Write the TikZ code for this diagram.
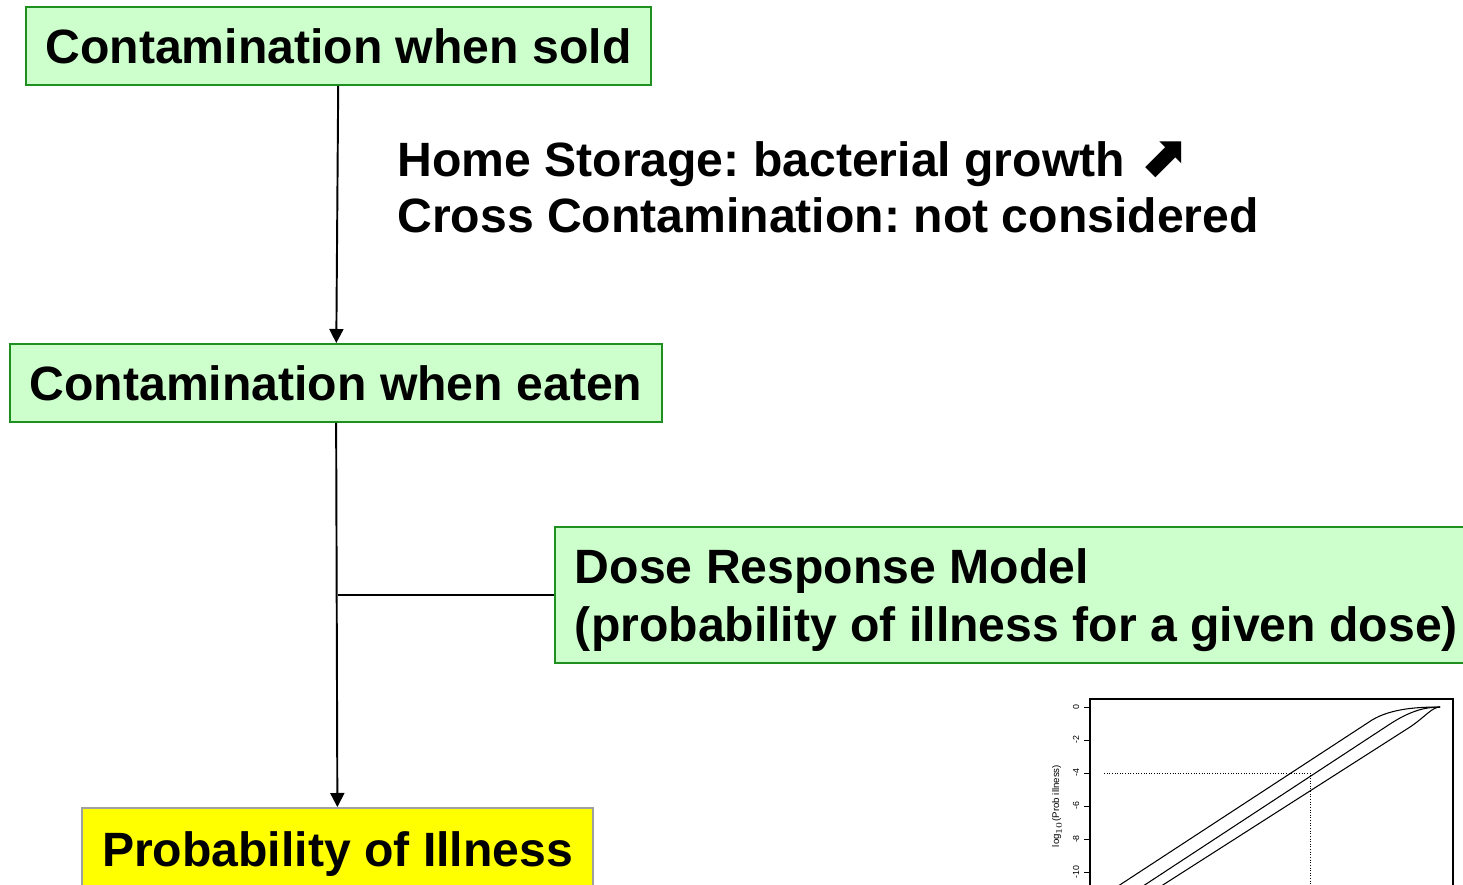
\documentclass[tikz,border=0pt]{standalone}
\usepackage{fontspec}
\setmainfont{Liberation Sans}
\newfontfamily\arrowfont{DejaVu Sans}
\usepackage{tikz}
\usetikzlibrary{
  arrows.meta,
  positioning,
  calc
}
\frenchspacing
\definecolor{PaleGreen}{HTML}{CCFFCC}
\definecolor{EdgeGreen}{HTML}{1F8F1F}
\definecolor{BrightYellow}{HTML}{FFFF00}
\definecolor{EdgeGray}{HTML}{A0A0A0}
\tikzset{
  % Stage box: green fill, fixed height
  stage/.style={
    rectangle,
    draw=EdgeGreen, fill=PaleGreen, line width=1.1pt,
    minimum height=1.56cm,
    align=center, font=\fontsize{27.4}{33}\selectfont\bfseries
  },
  % Result box
  result/.style={
    rectangle,
    draw=EdgeGray, fill=BrightYellow, line width=1.1pt,
    minimum height=1.56cm,
    align=center, font=\fontsize{27.4}{33}\selectfont\bfseries
  },
  % Arrow
  arr/.style={
    -{Triangle[length=8pt,width=8pt]},
    line width=1.1pt, color=black
  },
  % Side note
  note/.style={font=\fontsize{27.4}{32}\selectfont\bfseries, align=left, inner sep=0pt},
  % Plot parts
  tick/.style={font=\fontsize{5}{6}\selectfont, rotate=90, inner sep=0pt},
  curve/.style={line width=0.6pt},
  guide/.style={line width=0.5pt, densely dotted}
}
\begin{document}
\begin{tikzpicture}[x=0.2mm, y=-0.2mm]
  \useasboundingbox (0,0) rectangle (1463,884);
  \clip (0,0) rectangle (1463,884);

  \node[stage, minimum width=12.5cm]  (sold)  at (338.5,46) {Contamination when sold};
  \node[stage, minimum width=13.04cm] (eaten) at (336,383)  {Contamination when eaten};
  \node[stage, anchor=west, minimum height=2.72cm, align=left, inner xsep=0.4cm]
    (dose) at (554,595)
    {\rule{0pt}{0.9cm}Dose Response Model\\(probability of illness for a given dose)};
  \node[result, minimum width=10.22cm, text height=0.96cm, text depth=0.2cm]
    (prob) at (337.5,847) {Probability of Illness};

  \node[note, anchor=north west] (storage) at (397,141)
    {Home Storage: bacterial growth {\arrowfont\fontsize{33}{33}\selectfont ⬈}\\Cross Contamination: not considered};

  \draw[arr] (sold)  -- (eaten);
  \draw[arr] (eaten) -- (prob);
  \draw[line width=1.1pt] (dose.west) -- (dose.west -| prob.north);

  % dose response plot
  \draw[line width=0.6pt] (1090,699) rectangle (1453,900);
  \foreach \t [count=\i from 0] in {0,-2,-4,-6,-8,-10} {
    \draw[line width=0.5pt] (1084,707+33*\i) -- (1090,707+33*\i);
    \node[tick] (tk\i) at (1076,707+33*\i) {\t};
  }
  \node[tick, font=\fontsize{5.5}{6}\selectfont] (ylab) at (1057,806)
    {log$_{10}$(Prob illness)};
  \draw[curve] (1112,890) -- (1372,720) .. controls (1392,708) and (1420,707) .. (1440,707);
  \draw[curve] (1137,890) -- (1390,724) .. controls (1410,711) and (1425,707) .. (1440,707);
  \draw[curve] (1155,890) -- (1410,727) .. controls (1425,717) and (1432,707) .. (1440,707);
  \draw[guide] (1104,773) -- (1310,773) -- (1310,890);
\end{tikzpicture}
\end{document}
